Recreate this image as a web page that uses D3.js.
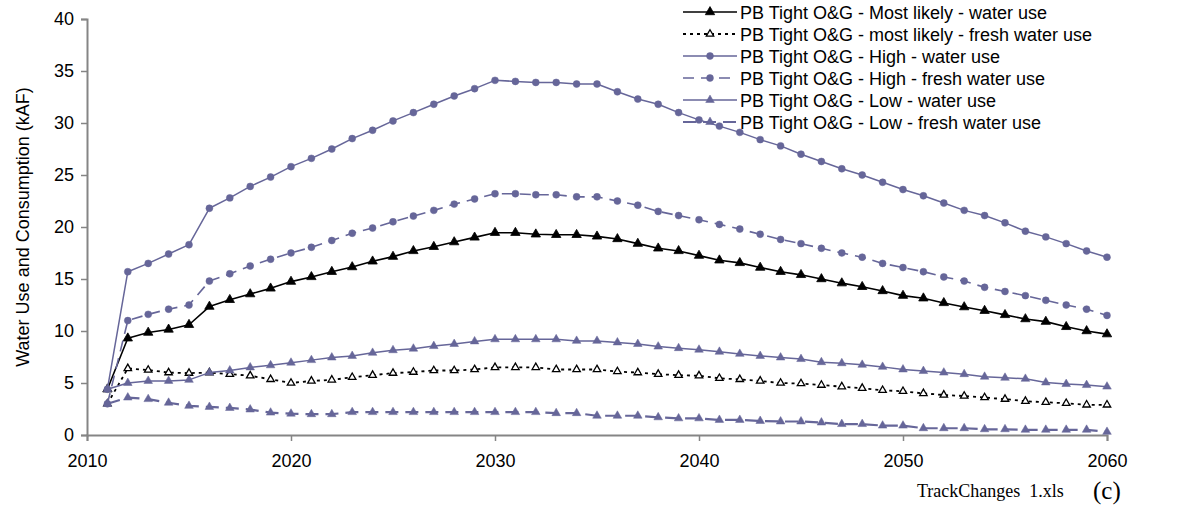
<!DOCTYPE html>
<html>
<head>
<meta charset="utf-8">
<script src="https://cdn.jsdelivr.net/npm/d3@7"></script>
<style>
  html, body { margin: 0; padding: 0; background: #fff; }
  svg { display: block; }
</style>
</head>
<body>
<svg id="chart" width="1182" height="514"></svg>
<script>
const years = d3.range(2011, 2061);

const mlWater = [4.4, 9.3, 9.85, 10.15, 10.6, 12.35, 13.0, 13.55, 14.1, 14.75,
  15.2, 15.7, 16.15, 16.7, 17.15, 17.7, 18.1, 18.55, 19.0, 19.45,
  19.45, 19.3, 19.25, 19.25, 19.1, 18.85, 18.4, 17.95, 17.7, 17.25,
  16.8, 16.55, 16.1, 15.7, 15.4, 15.0, 14.6, 14.25, 13.85, 13.4,
  13.15, 12.7, 12.3, 11.95, 11.55, 11.15, 10.9, 10.4, 10.0, 9.7];

const mlFresh = [3.0, 6.4, 6.25, 6.0, 5.95, 6.0, 5.85, 5.7, 5.35, 5.0,
  5.2, 5.3, 5.55, 5.75, 5.95, 6.05, 6.2, 6.2, 6.3, 6.5,
  6.5, 6.5, 6.3, 6.3, 6.3, 6.1, 6.0, 5.85, 5.75, 5.7,
  5.45, 5.35, 5.2, 5.0, 4.95, 4.8, 4.65, 4.5, 4.3, 4.2,
  4.0, 3.85, 3.75, 3.6, 3.45, 3.25, 3.15, 3.05, 2.9, 2.9];

const highWater = [4.4, 15.7, 16.5, 17.4, 18.3, 21.8, 22.8, 23.9, 24.8, 25.8,
  26.6, 27.5, 28.5, 29.3, 30.2, 31.0, 31.8, 32.6, 33.3, 34.1,
  34.0, 33.9, 33.9, 33.75, 33.75, 33.0, 32.3, 31.8, 31.0, 30.3,
  29.7, 29.1, 28.4, 27.8, 27.0, 26.3, 25.6, 25.0, 24.3, 23.6,
  23.0, 22.3, 21.6, 21.1, 20.4, 19.6, 19.05, 18.4, 17.7, 17.1];

const highFresh = [3.0, 11.0, 11.6, 12.1, 12.5, 14.8, 15.5, 16.25, 16.9, 17.5,
  18.05, 18.7, 19.4, 19.9, 20.5, 21.05, 21.6, 22.2, 22.7, 23.2,
  23.2, 23.1, 23.1, 22.9, 22.9, 22.5, 22.1, 21.5, 21.1, 20.7,
  20.25, 19.8, 19.3, 18.8, 18.4, 17.95, 17.5, 17.1, 16.5, 16.1,
  15.7, 15.2, 14.8, 14.2, 13.8, 13.4, 12.95, 12.5, 12.1, 11.5];

const lowWater = [4.4, 5.0, 5.2, 5.2, 5.3, 6.0, 6.2, 6.5, 6.7, 6.95,
  7.2, 7.45, 7.6, 7.9, 8.15, 8.3, 8.55, 8.75, 9.0, 9.2,
  9.2, 9.2, 9.2, 9.05, 9.05, 8.9, 8.75, 8.5, 8.35, 8.2,
  8.0, 7.8, 7.6, 7.45, 7.3, 7.0, 6.9, 6.75, 6.55, 6.3,
  6.15, 6.0, 5.85, 5.6, 5.5, 5.4, 5.05, 4.9, 4.8, 4.65];

const lowFresh = [3.0, 3.6, 3.45, 3.1, 2.8, 2.7, 2.6, 2.45, 2.15, 2.05,
  2.0, 2.0, 2.2, 2.2, 2.2, 2.2, 2.2, 2.2, 2.2, 2.2,
  2.2, 2.2, 2.1, 2.1, 1.85, 1.85, 1.85, 1.7, 1.6, 1.6,
  1.45, 1.45, 1.35, 1.3, 1.3, 1.2, 1.05, 1.05, 0.9, 0.9,
  0.65, 0.65, 0.65, 0.55, 0.55, 0.5, 0.5, 0.5, 0.5, 0.3];

const seriesNames = [
  "PB Tight O&G - Most likely - water use",
  "PB Tight O&G - most likely - fresh water use",
  "PB Tight O&G - High - water use",
  "PB Tight O&G - High - fresh water use",
  "PB Tight O&G - Low - water use",
  "PB Tight O&G - Low - fresh water use"
];
const xTicks = [2010, 2020, 2030, 2040, 2050, 2060];
const yTicks = [0, 5, 10, 15, 20, 25, 30, 35, 40];
const yTitle = "Water Use and Consumption (kAF)";
const footnote = "TrackChanges  1.xls";
const panelLabel = "(c)";

const PURPLE = "#666699";
const styles = [
  { stroke: "#000", width: 1.6, dash: null, sym: d3.symbolTriangle, size: 38, fill: "#000", mstroke: "#000", mw: 0.8 },
  { stroke: "#000", width: 1.8, dash: "3,4", sym: d3.symbolTriangle, size: 24, fill: "#fff", mstroke: "#000", mw: 1.3 },
  { stroke: PURPLE, width: 1.5, dash: null, sym: d3.symbolCircle, size: 38, fill: PURPLE, mstroke: PURPLE, mw: 0.5 },
  { stroke: PURPLE, width: 1.6, dash: "11,7", sym: d3.symbolCircle, size: 38, fill: PURPLE, mstroke: PURPLE, mw: 0.5 },
  { stroke: PURPLE, width: 1.5, dash: null, sym: d3.symbolTriangle, size: 32, fill: PURPLE, mstroke: PURPLE, mw: 0.5 },
  { stroke: PURPLE, width: 2.2, dash: "13,7", sym: d3.symbolTriangle, size: 32, fill: PURPLE, mstroke: PURPLE, mw: 0.5 }
];
const allSeries = [mlWater, mlFresh, highWater, highFresh, lowWater, lowFresh];

const svg = d3.select("#chart");
const x = d3.scaleLinear().domain([2010, 2060]).range([87, 1107]);
const y = d3.scaleLinear().domain([0, 40]).range([435, 19]);
const AX = "#858585";
const FONT = "'Liberation Sans', Arial, sans-serif";
const FS = 18;

// Y axis
const yAxis = svg.append("g").attr("transform", `translate(${x(2010)},0)`)
  .call(d3.axisLeft(y).tickValues(yTicks).tickSize(6).tickPadding(7).tickFormat(d3.format("d")));
yAxis.select(".domain").attr("stroke", AX).attr("stroke-width", 2);
yAxis.selectAll(".tick line").attr("stroke", AX).attr("stroke-width", 1.5);
yAxis.selectAll(".tick text").attr("font-family", FONT).attr("font-size", FS).attr("fill", "#000");

// X axis
const xAxis = svg.append("g").attr("transform", `translate(0,${y(0)})`)
  .call(d3.axisBottom(x).tickValues(xTicks).tickSize(6).tickPadding(13).tickFormat(d3.format("d")));
xAxis.select(".domain").attr("stroke", AX).attr("stroke-width", 2);
xAxis.selectAll(".tick line").attr("stroke", AX).attr("stroke-width", 1.5);
xAxis.selectAll(".tick text").attr("font-family", FONT).attr("font-size", FS).attr("fill", "#000");

// Y title
svg.append("text")
  .attr("transform", `translate(29,${(y(0) + y(40)) / 2}) rotate(-90)`)
  .attr("text-anchor", "middle")
  .attr("font-family", FONT).attr("font-size", FS).attr("fill", "#000")
  .text(yTitle);

// Series
const line = d3.line().x((d, i) => x(years[i])).y(d => y(d));
allSeries.forEach((vals, si) => {
  const st = styles[si];
  const g = svg.append("g");
  g.append("path").datum(vals)
    .attr("d", line).attr("fill", "none")
    .attr("stroke", st.stroke).attr("stroke-width", st.width)
    .attr("stroke-dasharray", st.dash)
    .attr("stroke-linejoin", "round");
  g.selectAll("path.m").data(vals).enter().append("path").attr("class", "m")
    .attr("d", d3.symbol().type(st.sym).size(st.size))
    .attr("transform", (d, i) => `translate(${x(years[i])},${y(d)})`)
    .attr("fill", st.fill).attr("stroke", st.mstroke).attr("stroke-width", st.mw);
});

// Legend
const lg = svg.append("g");
seriesNames.forEach((name, i) => {
  const st = styles[i];
  const yy = 12 + i * 22;
  lg.append("line").attr("x1", 683).attr("x2", 737).attr("y1", yy).attr("y2", yy)
    .attr("stroke", st.stroke).attr("stroke-width", st.width).attr("stroke-dasharray", st.dash);
  lg.append("path").attr("d", d3.symbol().type(st.sym).size(st.size)())
    .attr("transform", `translate(710,${yy})`)
    .attr("fill", st.fill).attr("stroke", st.mstroke).attr("stroke-width", st.mw);
  lg.append("text").attr("x", 740).attr("y", yy + 6.5)
    .attr("font-family", FONT).attr("font-size", FS).attr("fill", "#000")
    .text(name);
});

// Footnotes
svg.append("text").attr("x", 917).attr("y", 497)
  .attr("font-family", "'Liberation Serif', 'Times New Roman', serif").attr("font-size", 18)
  .attr("fill", "#000").attr("xml:space", "preserve").style("white-space", "pre").text(footnote);
svg.append("text").attr("x", 1093).attr("y", 499)
  .attr("font-family", "'Liberation Serif', 'Times New Roman', serif").attr("font-size", 25)
  .attr("fill", "#000").text(panelLabel);
</script>
</body>
</html>
